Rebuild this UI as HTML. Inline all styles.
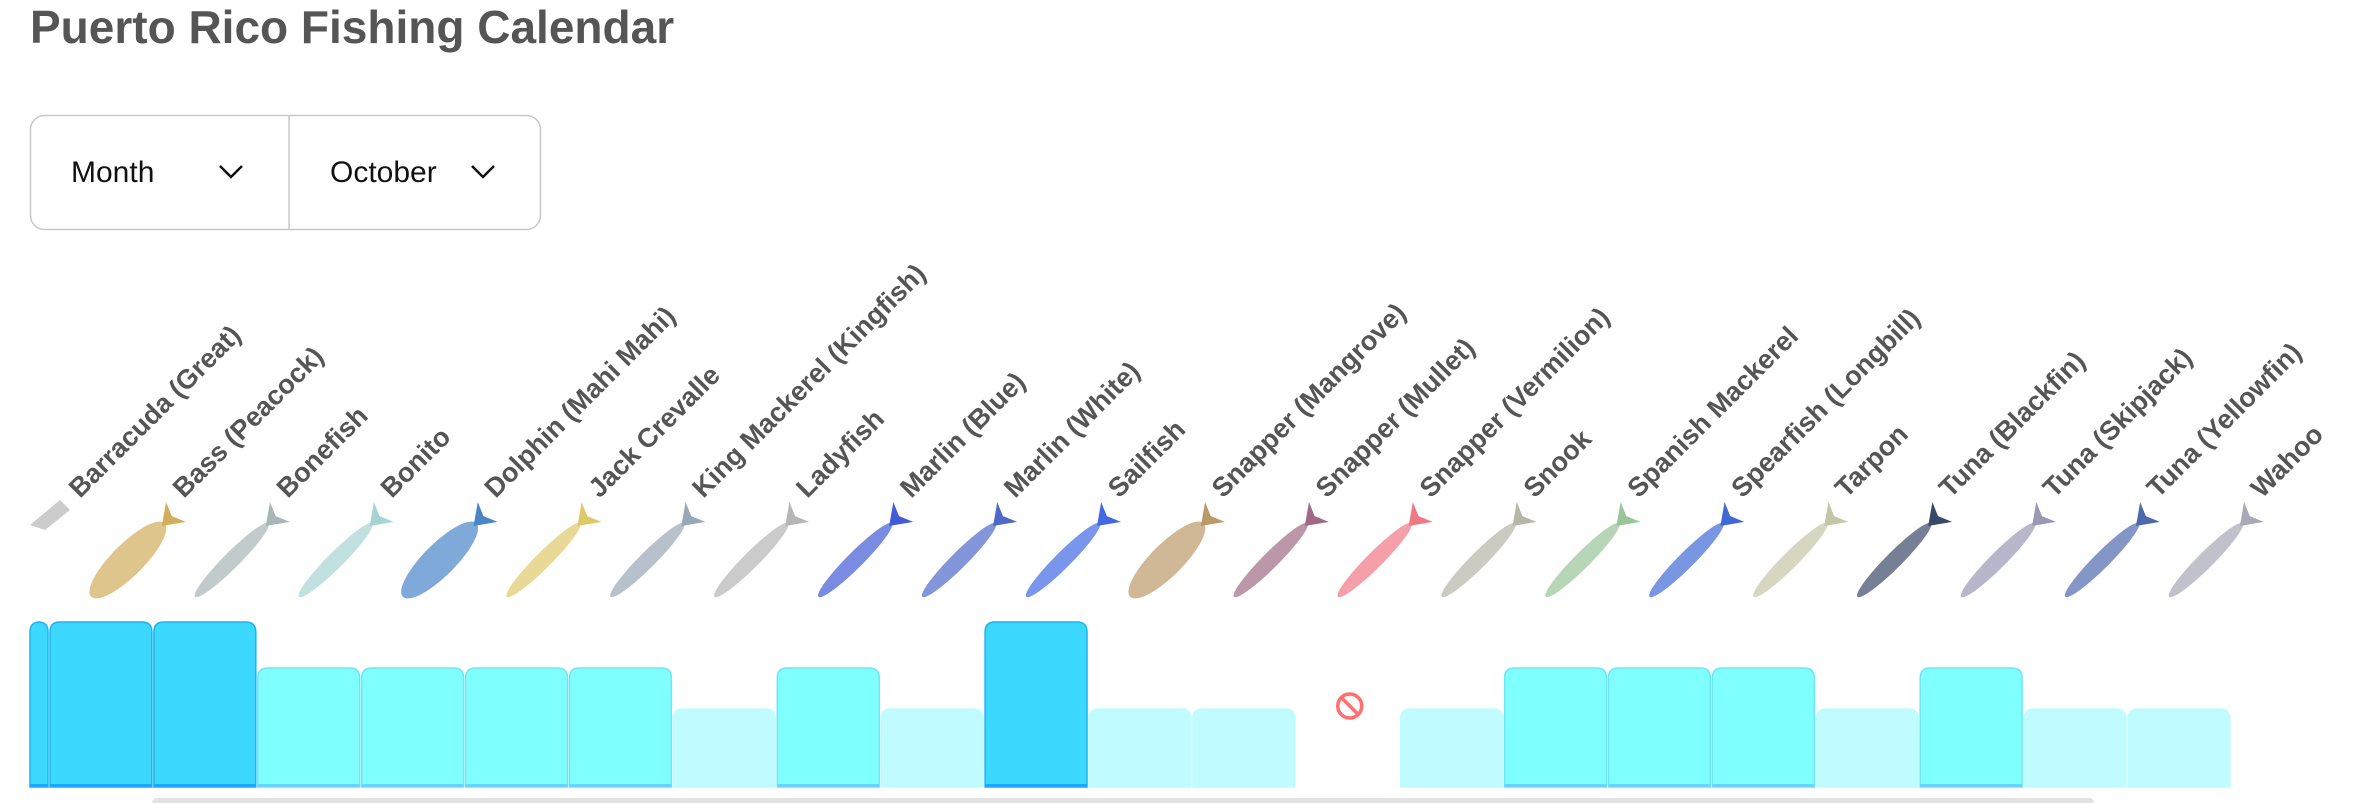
<!DOCTYPE html>
<html><head><meta charset="utf-8"><style>
html,body{margin:0;padding:0;background:#fff;width:2359px;height:803px;overflow:hidden}
svg{display:block}
text{font-family:"Liberation Sans",sans-serif}
</style></head><body>
<svg id="s" width="2359" height="803" viewBox="0 0 2359 803" xmlns="http://www.w3.org/2000/svg">
<text x="30" y="43" font-size="46" font-weight="bold" fill="#555">Puerto Rico Fishing Calendar</text>
<rect x="30.5" y="115.5" width="510" height="114" rx="14" fill="#fff" stroke="#c8c8c8" stroke-width="1.5"/>
<line x1="289" y1="116" x2="289" y2="229" stroke="#c8c8c8" stroke-width="1.5"/>
<text x="71" y="182" font-size="30" fill="#111">Month</text>
<polyline points="220,166 231,177 242,166" fill="none" stroke="#111" stroke-width="2.5"/>
<text x="330" y="182" font-size="30" fill="#111">October</text>
<polyline points="472,166 483,177 494,166" fill="none" stroke="#111" stroke-width="2.5"/>
<rect x="152" y="798" width="1942" height="10" rx="5" fill="#e2e2e2"/>
<g id="bars"></g><g id="fish"></g><g id="labels"></g>
</svg>
<script>
var names=["Barracuda (Great)","Bass (Peacock)","Bonefish","Bonito","Dolphin (Mahi Mahi)","Jack Crevalle","King Mackerel (Kingfish)","Ladyfish","Marlin (Blue)","Marlin (White)","Sailfish","Snapper (Mangrove)","Snapper (Mullet)","Snapper (Vermilion)","Snook","Spanish Mackerel","Spearfish (Longbill)","Tarpon","Tuna (Blackfin)","Tuna (Skipjack)","Tuna (Yellowfin)","Wahoo"];
var lv=[3,3,3,2,2,2,2,1,2,1,3,1,1,0,1,2,2,2,1,2,1,1];
var fc=["#ccc","#c9a040","#9aa","#9cc","#2a70c0","#d8c050","#89a","#aaa","#2040d0","#3050c0","#2050e0","#b08850","#905070","#f06070","#aa9","#8b8","#2050d0","#bb9","#1a2a50","#88a","#3050a0","#99a"];
var NS="http://www.w3.org/2000/svg";
function el(t,a,p){var e=document.createElementNS(NS,t);for(var k in a)e.setAttribute(k,a[k]);document.getElementById(p).appendChild(e);return e;}
var W=103.9,bot=787,tops={3:622,2:668,1:709};
var fills={3:"#3dd8ff",2:"#80ffff",1:"#c0fcff"},strokes={3:"#1cb4f0",2:"#6ee6f4",1:"#c0fcff"};
for(var i=0;i<22;i++){
 var x0=i==0?30:50+W*(i-1), w=i==0?18:W-2;
 var L=lv[i];
 if(L>0){
  el("path",{d:"M"+x0+","+bot+" V"+(tops[L]+10)+" Q"+x0+","+tops[L]+" "+(x0+10)+","+tops[L]+" H"+(x0+w-10)+" Q"+(x0+w)+","+tops[L]+" "+(x0+w)+","+(tops[L]+10)+" V"+bot+" Z",fill:fills[L],stroke:strokes[L],"stroke-width":1.5},"bars");
  if(L>1)el("rect",{x:x0,y:bot-3,width:w,height:3,fill:L==3?"#1aa8ff":"#66d4ff"},"bars");
 } else {
  var cx=x0+w/2+2,cy=706;
  el("circle",{cx:cx,cy:cy,r:12,fill:"none",stroke:"#ff6f6f","stroke-width":3.5},"bars");
  el("line",{x1:cx-8,y1:cy-8,x2:cx+8,y2:cy+8,stroke:"#ff6f6f","stroke-width":3.5},"bars");
 }
 var bx=80+W*i, by=499;
 var t=el("text",{x:0,y:0,"font-size":27,"font-weight":"bold",fill:"#555",transform:"translate("+bx+","+by+") rotate(-45)"},"labels");
 t.textContent=names[i];
 if(i>0){
  var cx=bx-56,cy=560;
  var g=el("g",{transform:"translate("+cx+","+cy+") rotate(-45)",opacity:0.85},"fish");
  var c=fc[i];
  var e=document.createElementNS(NS,"ellipse");e.setAttribute("cx",0);e.setAttribute("cy",0);e.setAttribute("rx",52);e.setAttribute("ry",i==4||i==11||i==1?16:8);e.setAttribute("fill",c);e.setAttribute("opacity",0.7);g.appendChild(e);
  var p=document.createElementNS(NS,"path");p.setAttribute("d","M48,0 L68,-14 L62,0 L68,14 Z");p.setAttribute("fill",c);g.appendChild(p);
 } else {
  el("path",{d:"M30,525 L60,500 L70,510 L45,530 Z",fill:"#ccc"},"fish");
 }
}
</script>
</body></html>
